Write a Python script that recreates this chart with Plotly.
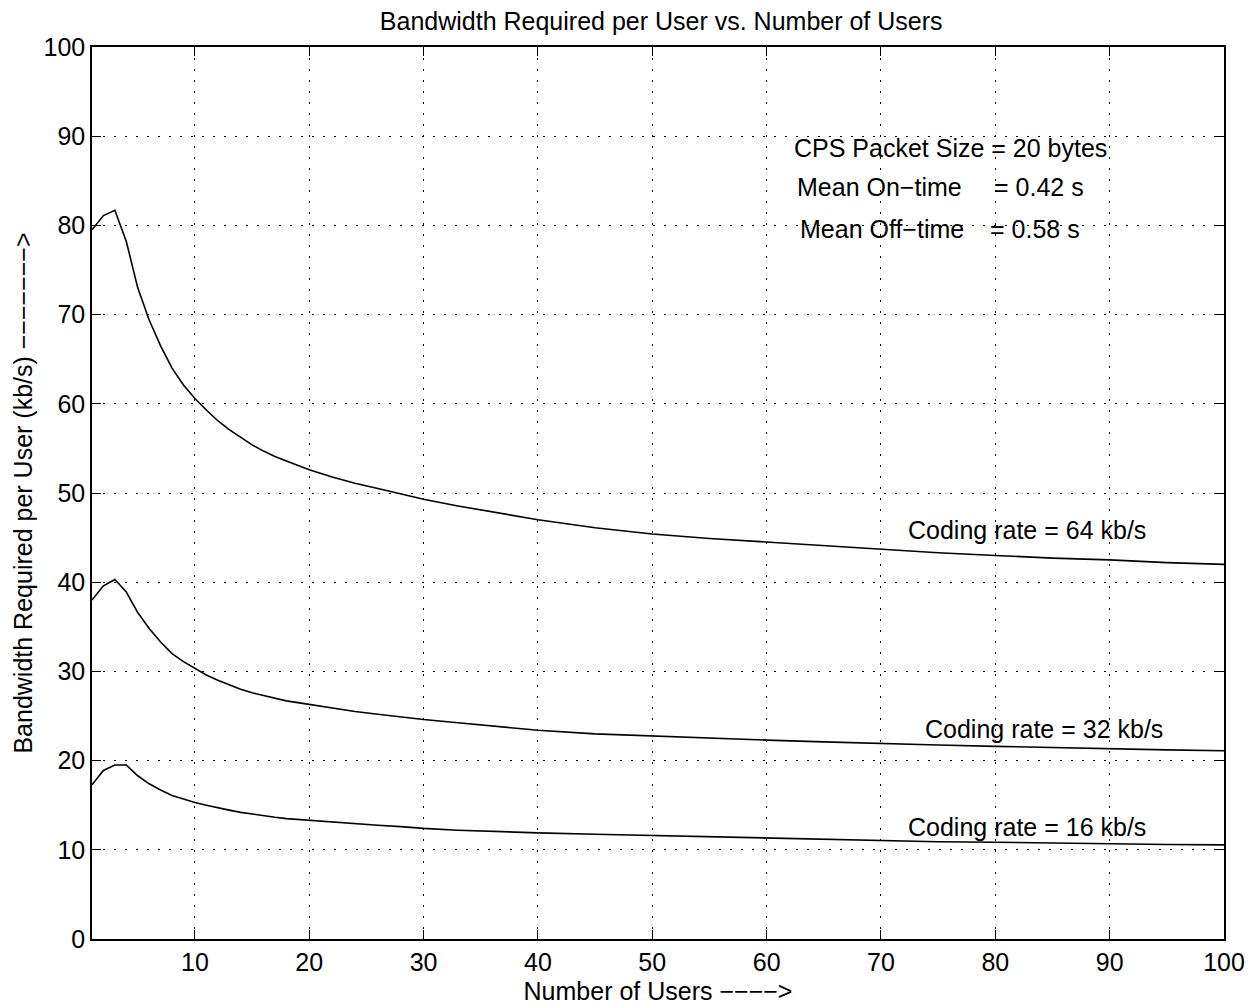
import plotly.graph_objects as go

# Number of users (x) and bandwidth per user (kb/s) for each coding rate
users = [1, 2, 3, 4, 5, 6, 7, 8, 9, 10, 11, 12, 13, 14, 15, 16, 17, 18, 19, 20,
         22, 24, 26, 28, 30, 33, 36, 40, 45, 50, 55, 60, 65, 70, 75, 80, 85, 90, 95, 100]
bw_64 = [79.5, 81.1, 81.7, 78.2, 73.0, 69.4, 66.5, 64.0, 62.1, 60.6, 59.3, 58.1,
         57.1, 56.2, 55.4, 54.7, 54.1, 53.6, 53.1, 52.6, 51.8, 51.1, 50.5, 49.9,
         49.3, 48.55, 47.85, 47.0, 46.1, 45.4, 44.9, 44.5, 44.1, 43.7, 43.3, 43.0,
         42.7, 42.5, 42.2, 42.0]
bw_32 = [38.0, 39.6, 40.3, 38.9, 36.6, 34.8, 33.3, 32.0, 31.1, 30.3, 29.6, 29.0,
         28.5, 28.0, 27.6, 27.3, 27.0, 26.7, 26.5, 26.3, 25.9, 25.5, 25.2, 24.9,
         24.6, 24.25, 23.9, 23.4, 23.0, 22.75, 22.5, 22.3, 22.1, 21.9, 21.75, 21.6,
         21.45, 21.3, 21.2, 21.1]
bw_16 = [17.3, 18.9, 19.5, 19.5, 18.3, 17.4, 16.7, 16.1, 15.7, 15.3, 15.0, 14.7,
         14.45, 14.2, 14.0, 13.8, 13.65, 13.5, 13.4, 13.3, 13.1, 12.9, 12.75, 12.6,
         12.4, 12.2, 12.05, 11.9, 11.75, 11.6, 11.45, 11.3, 11.15, 11.0, 10.9, 10.85,
         10.75, 10.7, 10.6, 10.55]

series_labels = ["Coding rate = 64 kb/s", "Coding rate = 32 kb/s", "Coding rate = 16 kb/s"]
x_ticks = [10, 20, 30, 40, 50, 60, 70, 80, 90, 100]
y_ticks = [0, 10, 20, 30, 40, 50, 60, 70, 80, 90, 100]

FONT = "Liberation Sans, Arial, Helvetica, sans-serif"
FS = 25

fig = go.Figure()
for ys in (bw_64, bw_32, bw_16):
    fig.add_trace(go.Scatter(x=users, y=ys, mode="lines",
                             line=dict(color="black", width=1.6),
                             showlegend=False, hoverinfo="skip"))

label_pos = [(72.2, 45.9), (73.7, 23.5), (72.2, 12.6)]
for txt, (lx, ly) in zip(series_labels, label_pos):
    fig.add_annotation(x=lx, y=ly, text=txt, showarrow=False, xanchor="left",
                       yanchor="middle", font=dict(size=FS, color="black", family=FONT))

info = [
    ("CPS Packet Size = 20 bytes", 62.2, 88.7, None, None),
    ("Mean On\u2212time", 62.45, 84.3, "= 0.42 s", 79.7),
    ("Mean Off\u2212time", 62.7, 79.6, "= 0.58 s", 79.4),
]
for t, x0, y0, t2, x2 in info:
    fig.add_annotation(x=x0, y=y0, text=t, showarrow=False, xanchor="left",
                       yanchor="middle", font=dict(size=FS, color="black", family=FONT))
    if t2:
        fig.add_annotation(x=x2, y=y0, text=t2, showarrow=False, xanchor="left",
                           yanchor="middle", font=dict(size=FS, color="black", family=FONT))

axis_common = dict(showline=True, linecolor="black", linewidth=1.5, mirror="ticks",
                   ticks="inside", ticklen=9, tickwidth=1.2, tickcolor="black",
                   showgrid=True, gridcolor="black", gridwidth=1, griddash="2px,9px",
                   zeroline=False, automargin=False,
                   tickfont=dict(size=FS, color="black", family=FONT))

fig.update_xaxes(range=[1, 100], tickvals=x_ticks,
                 title=dict(text="Number of Users \u2212\u2212\u2212\u2212>", standoff=8,
                            font=dict(size=FS, color="black", family=FONT)),
                 **axis_common)
fig.update_yaxes(range=[0, 100], tickvals=y_ticks,
                 title=dict(text="Bandwidth Required per User (kb/s) " + "\u2212" * 7 + ">",
                            standoff=4, font=dict(size=FS, color="black", family=FONT)),
                 **axis_common)

fig.update_layout(
    width=1257, height=1007,
    margin=dict(l=92, r=33, t=47, b=68),
    paper_bgcolor="white", plot_bgcolor="white",
    title=dict(text="Bandwidth Required per User vs. Number of Users",
               x=0.526, xanchor="center", y=0.979, yanchor="middle",
               font=dict(size=FS, color="black", family=FONT)),
)

fig.write_html("out.html")
